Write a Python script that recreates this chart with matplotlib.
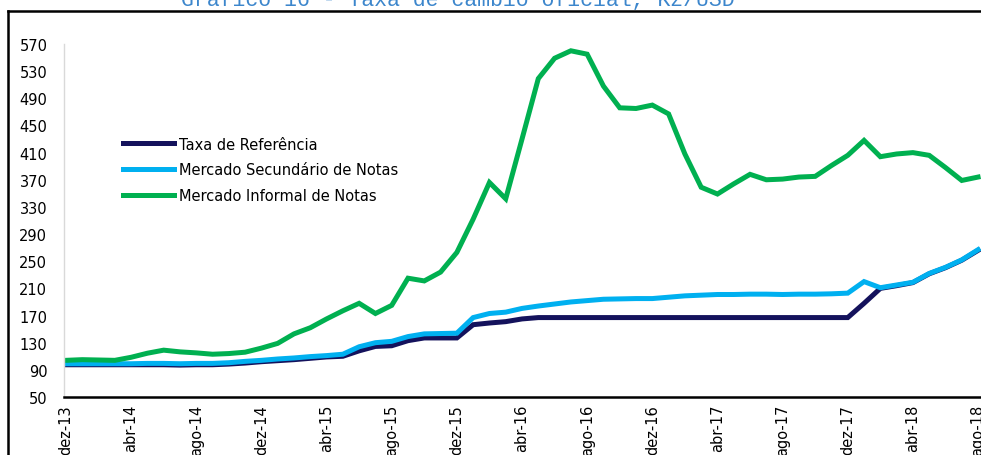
import numpy as np
import matplotlib.pyplot as plt
from matplotlib.lines import Line2D

# Monthly series, dez-13 .. ago-18 (57 months), Kz/USD
meses = ['jan', 'fev', 'mar', 'abr', 'mai', 'jun', 'jul', 'ago', 'set', 'out', 'nov', 'dez']
datas = ['dez-13'] + ['%s-%d' % (m, a) for a in range(14, 19) for m in meses]
datas = datas[:57]

taxa_referencia = [97.5, 97.5, 97.5, 97.5, 97.5, 97.5, 97.5, 97, 97.5, 97.5,
                   98.5, 100, 102, 103.5, 105, 107, 109, 110, 118, 124.5,
                   125.5, 133, 137, 137, 137, 156.5, 159, 161, 165, 167,
                   167, 167, 167, 167, 167, 167, 167, 167, 167, 167,
                   167, 167, 167, 167, 167, 167, 167, 167, 167, 188,
                   210, 214, 218.5, 231.5, 240.5, 251.5, 266]

mercado_secundario = [99, 99, 99, 99, 99, 99.5, 99.5, 99, 99.5, 99.5,
                      100.5, 102.5, 104, 106, 107.5, 109.5, 111, 113, 124, 130,
                      132, 139, 143, 143.5, 144, 167, 173, 175, 180.5, 184,
                      187, 190, 192, 194, 194.5, 195, 195, 197, 199, 200,
                      201, 201, 201.5, 201.5, 201, 201.5, 201.5, 202, 203, 220,
                      211, 215, 219, 232, 241, 252, 267]

mercado_informal = [104, 105, 104.5, 104, 108.5, 114.5, 119, 116.5, 115, 113,
                    114, 116, 122, 129, 143, 152, 165, 177, 188, 173,
                    185, 225, 221, 234, 263, 312, 366, 342, 430, 519,
                    549, 560, 555, 508, 476, 475, 480, 467, 408, 359,
                    349, 364, 378, 370, 371, 374, 375, 391, 406, 428,
                    404, 408, 410, 406, 388, 369, 374]

rotulos = ['Taxa de Referência', 'Mercado Secundário de Notas', 'Mercado Informal de Notas']
cores = ['#14125C', '#00B0F0', '#00B050']

x = np.arange(len(datas))

fig = plt.figure(figsize=(9.81, 4.56), dpi=100)
ax = fig.add_axes([64 / 981, 1 - 398 / 456, 917 / 981, (398 - 45) / 456])

ax.plot(x, taxa_referencia, color=cores[0], lw=3.6, solid_joinstyle='miter')
ax.plot(x, mercado_secundario, color=cores[1], lw=3.6, solid_joinstyle='miter')
ax.plot(x, mercado_informal, color=cores[2], lw=3.6, solid_joinstyle='miter')

ax.set_xlim(-0.12, 56.18)
ax.set_ylim(50, 570)
ax.set_yticks(np.arange(50, 571, 40))
ax.set_xticks(x[::4])
ax.set_xticklabels(datas[::4], rotation=90, fontsize=10.5, family='DejaVu Sans')
ax.tick_params(axis='y', labelsize=10.5, length=0, pad=12)
ax.tick_params(axis='x', length=0, pad=5)

for s in ['top', 'right']:
    ax.spines[s].set_visible(False)
ax.spines['left'].set_color('#d9d9d9')
ax.spines['left'].set_linewidth(1)
ax.spines['bottom'].set_color('black')
ax.spines['bottom'].set_linewidth(1.8)

handles = [Line2D([0], [0], color=c, lw=3.6) for c in cores]
ax.legend(handles, rotulos, loc='upper left', bbox_to_anchor=(0.05, 0.775),
          frameon=False, fontsize=10.5, handlelength=3.5, handletextpad=0.35,
          labelspacing=0.75)

# outer frame of the chart box
fig.add_artist(Line2D([8 / 981, 8 / 981], [0, 1 - 12 / 456], color='black', lw=1.8,
                      transform=fig.transFigure))
fig.add_artist(Line2D([8 / 981, 1], [1 - 12 / 456, 1 - 12 / 456], color='black', lw=1.8,
                      transform=fig.transFigure))

fig.text(0.467, 0.998, 'Gráfico 16 - Taxa de câmbio oficial, Kz/USD', ha='center', va='center',
         fontsize=15.5, color='#3C86CC', family='Liberation Mono')

fig.savefig('out.png', dpi=100)
